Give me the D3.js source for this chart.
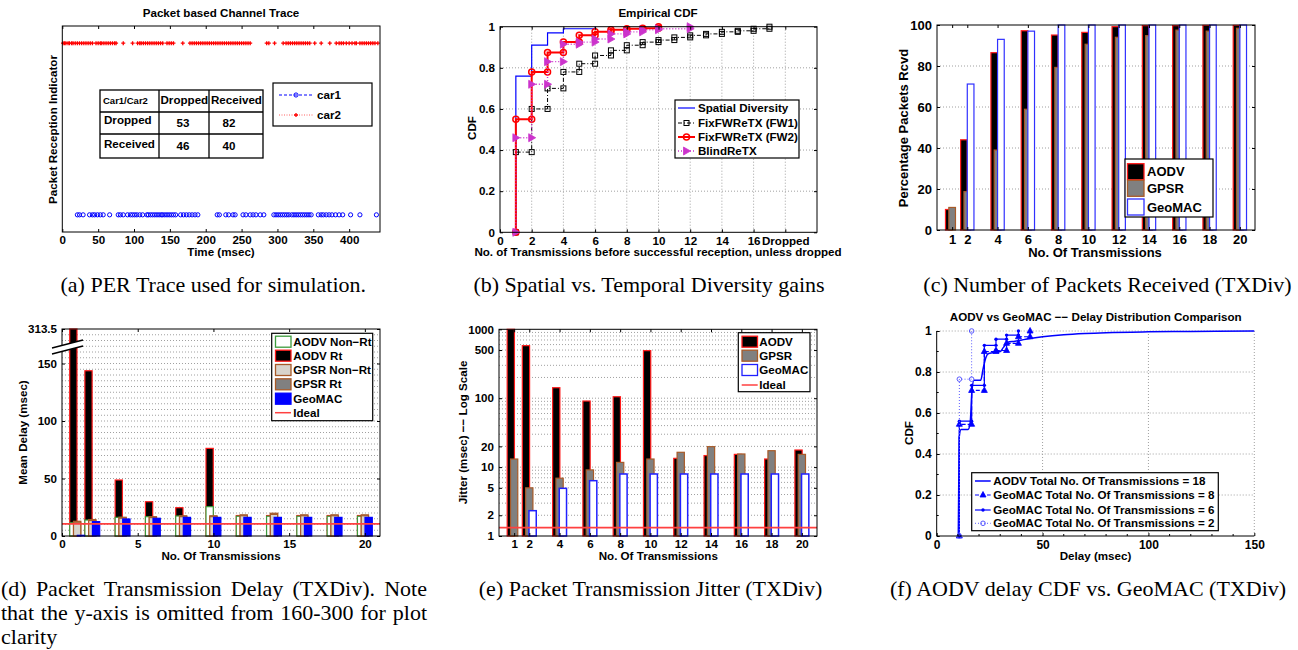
<!DOCTYPE html>
<html><head><meta charset="utf-8"><title>chart</title>
<script src="https://cdn.jsdelivr.net/npm/d3@7/dist/d3.min.js"></script>
<style>html,body{margin:0;padding:0;background:#fff;overflow:hidden}</style>
</head><body>
<svg id="chart" width="1298" height="650" xmlns="http://www.w3.org/2000/svg"></svg>
<script>
// ================= DATA =================
// (a) Packet based channel trace: times (msec) of plotted packets
const traceTicks = [0,50,100,150,200,250,300,350,400];
const car1Times = [21,24,29,38,42,45,49,53,57,66,78,81,85,91,95,98,101,104,108,112,118,120,123,126,129,132,135,138,140,143,146,149,152,155,158,165,169,173,177,181,185,189,216,219,228,232,238,241,252,256,262,266,270,276,281,295,298,301,304,307,310,313,316,320,323,326,329,332,335,338,341,344,347,357,361,364,368,372,376,381,386,391,402,415,438];
const car2Times = [1,3,5,8,10,13,15,18,21,24,27,30,33,36,39,42,47,50,53,55,58,61,64,67,70,73,75,85,98,105,108,110,113,116,119,122,125,128,131,134,137,140,146,149,152,155,168,178,181,184,187,190,193,196,199,202,205,208,211,214,217,220,223,226,229,232,235,238,241,244,247,250,253,256,259,262,285,288,296,308,312,315,318,321,324,327,330,333,336,339,342,345,352,361,373,382,386,389,392,396,400,404,408,410,415,418,421,424,427,430,433,436,440];
const tableHeader = ["Car1/Car2","Dropped","Received"];
const tableRowLabels = ["Dropped","Received"];
const tableColDropped = [53,46];
const tableColReceived = [82,40];
const traceLegend = ["car1","car2"];

// (b) Empirical CDF: [No. of transmissions, CDF]
const cdfTicks = [0,2,4,6,8,10,12,14,16,18];
const cdfTickLabels = ["0","2","4","6","8","10","12","14","16","Dropped"];
const cdfYTicks = [0,0.2,0.4,0.6,0.8,1];
const spatialSteps = [[1,0.76],[2,0.91],[3,0.97],[4,0.99],[6,1.0]];
const fw1Steps = [[1,0.39],[2,0.60],[3,0.70],[4,0.78],[5,0.82],[6,0.86],[7,0.885],[8,0.91],[9,0.925],[10,0.935],[11,0.948],[12,0.958],[13,0.965],[14,0.975],[15,0.98],[16,0.99],[17,1.0]];
const fw2Steps = [[1,0.55],[2,0.78],[3,0.875],[4,0.925],[5,0.958],[6,0.975],[7,0.985],[8,0.99],[9,0.993],[10,1.0]];
const blindSteps = [[1,0.46],[2,0.72],[3,0.83],[4,0.915],[5,0.925],[6,0.94],[7,0.965],[8,0.975],[9,0.985],[10,0.99],[12,1.0]];
const cdfLegend = ["Spatial Diversity","FixFWReTX (FW1)","FixFWReTX (FW2)","BlindReTX"];

// (c) Percentage packets received
const txCats = [1,2,4,6,8,10,12,14,16,18,20];
const rcvAODV = [10,44,86.5,97.2,95.1,96.4,99.2,99.7,99.7,99.8,99.8];
const rcvGPSR = [11,18.7,39,58.9,79.3,90.6,94,94.8,97.5,97,98.4];
const rcvGeoMAC = [0,71.2,93,97,100,100,100,100,100,100,100];
const rcvYTicks = [0,20,40,60,80,100];
const rcvLegend = ["AODV","GPSR","GeoMAC"];

// (d) Mean delay (msec)
const delayXTicks = [0,5,10,15,20];
const delayYTicks = [0,50,100,150,313.5];
const delayAODVNonRt = [11.5,13.9,16.2,16.8,17.4,25.5,17.2,17.2,17.2,17.2,17.2];
const delayAODVRt = [313.5,143.7,48.7,29.8,24.6,76.2,17.8,17.8,17.8,17.8,17.8];
const delayGPSRNonRt = [12,13.5,15.5,16,16.8,16.8,17.6,18.8,17.6,17.6,17.6];
const delayGPSRRt = [12.8,14.3,16.3,16.8,17.6,17.6,18.4,19.8,18.4,18.4,18.4];
const delayGeoMAC = [0.6,12.5,14.8,15.4,16.2,16.2,16.2,16.2,16.2,16.2,16.2];
const delayIdeal = 10.5;
const delayLegend = ["AODV Non\u2212Rt","AODV Rt","GPSR Non\u2212Rt","GPSR Rt","GeoMAC","Ideal"];

// (e) Jitter (msec), log scale
const jitYTicks = [1,2,5,10,20,100,500,1000];
const jitAODV = [1000,579,142,91,105,490,13.4,14.7,15.3,13.1,17.7];
const jitGPSR = [13.1,5.0,6.9,9.1,11.7,13.1,16.4,19.8,15.5,17.3,15.3];
const jitGeoMAC = [1,2.33,4.92,6.35,7.94,7.94,7.94,7.94,7.94,7.94,7.94];
const jitIdeal = 1.32;
const jitLegend = ["AODV","GPSR","GeoMAC","Ideal"];

// (f) Delay CDF
const fXTicks = [0,50,100,150];
const fYTicks = [0,0.2,0.4,0.6,0.8,1];
const aodvDelayX = [10.2,10.6,11.5,14.8,15.8,16.6,17.6,20.8,22,23.2,24.5,30,31.5,33.5,37,42,50,60,70,80,100,120,150];
const aodvDelayCdf = [0,0.48,0.52,0.52,0.55,0.70,0.76,0.76,0.82,0.87,0.89,0.90,0.92,0.945,0.95,0.96,0.972,0.982,0.988,0.992,0.996,0.998,1.0];
const geo8Steps = [[10.7,0.545],[16.5,0.71],[22.5,0.90],[28,0.905],[33,0.94],[38.6,0.972],[44.1,1.0]];
const geo6Steps = [[10.7,0.56],[16.5,0.735],[22.5,0.93],[28,0.96],[33,0.98],[38.6,1.0]];
const geo2Steps = [[10.7,0.765],[16.5,1.0]];
const fLegend = ["AODV Total No. Of Transmissions = 18","GeoMAC Total No. Of Transmissions = 8","GeoMAC Total No. Of Transmissions = 6","GeoMAC Total No. Of Transmissions = 2"];

// ================= DRAWING =================
const svg = d3.select("#chart");
svg.append("rect").attr("width",1298).attr("height",650).attr("fill","#fff");
const SANS = '"Liberation Sans", Arial, Helvetica, sans-serif';
const SERIF = '"Liberation Serif", "Times New Roman", Times, serif';
const FS = 11.6, CAP = 22, GRID = "#a0a0a0";
const BLUE = "#0000ff", RED = "#ff1a1a", BROWN = "#a85a28", GREEN = "#3c9c3c", MAG = "#cc33cc";

function label(g, x, y, s, o = {}) {
  const t = g.append("text").attr("x", x).attr("y", y).text(s)
    .attr("font-family", o.serif ? SERIF : SANS)
    .attr("font-weight", o.serif ? "normal" : "bold")
    .attr("font-size", o.fs || FS)
    .attr("text-anchor", o.anchor || "middle")
    .attr("dy", o.dy === undefined ? "0.35em" : o.dy)
    .attr("fill", "#000");
  if (o.rot) t.attr("transform", `rotate(-90,${x},${y})`);
  return t;
}
function grid(P, x, y, gx, gy) {
  const g = svg.append("g").attr("stroke", GRID).attr("stroke-dasharray", "1,2").attr("stroke-width", 1);
  if (gx) g.selectAll(null).data(gx).join("line").attr("x1", d => x(d)).attr("x2", d => x(d)).attr("y1", P.t).attr("y2", P.b);
  if (gy) g.selectAll(null).data(gy).join("line").attr("y1", d => y(d)).attr("y2", d => y(d)).attr("x1", P.l).attr("x2", P.r);
}
function frame(P, x, y, o) {
  const g = svg.append("g");
  const fs = o.fs || FS, tl = o.tl || 3;
  const style = s => { s.select(".domain").remove(); s.attr("font-size", fs).attr("font-family", SANS).attr("font-weight", "bold"); s.selectAll("text").attr("fill", "#000"); };
  const bx = d3.axisBottom(x).tickValues(o.xTicks).tickSize(-tl).tickSizeOuter(0).tickPadding(o.xPad || 4);
  if (o.xFmt) bx.tickFormat(o.xFmt);
  g.append("g").attr("transform", `translate(0,${P.b})`).call(bx).call(style);
  if (y && o.yTicks) {
    const ly = d3.axisLeft(y).tickValues(o.yTicks).tickSize(-tl).tickSizeOuter(0).tickPadding(o.yPad || 5);
    if (o.yFmt) ly.tickFormat(o.yFmt);
    g.append("g").attr("transform", `translate(${P.l},0)`).call(ly).call(style);
  }
  if (o.mirror) {
    g.append("g").attr("transform", `translate(0,${P.t})`).call(d3.axisTop(x).tickValues(o.xTicks).tickSize(-tl).tickSizeOuter(0).tickFormat("")).call(style);
    if (y && o.yTicks) g.append("g").attr("transform", `translate(${P.r},0)`).call(d3.axisRight(y).tickValues(o.yTicks).tickSize(-tl).tickSizeOuter(0).tickFormat("")).call(style);
  }
  if (o.box !== false) g.append("rect").attr("x", P.l).attr("y", P.t).attr("width", P.r - P.l).attr("height", P.b - P.t).attr("fill", "none").attr("stroke", "#000").attr("stroke-width", 1);
  return g;
}
function mark(g, type, cx, cy, c) {
  if (type === "sq") g.append("rect").attr("x", cx - 2.5).attr("y", cy - 2.5).attr("width", 5).attr("height", 5).attr("fill", "none").attr("stroke", c).attr("stroke-width", 1);
  else if (type === "ci") g.append("circle").attr("cx", cx).attr("cy", cy).attr("r", 3).attr("fill", "none").attr("stroke", c).attr("stroke-width", 1.5);
  else if (type === "tr") g.append("path").attr("d", `M${cx-3},${cy-4}L${cx+4},${cy}L${cx-3},${cy+4}Z`).attr("fill", c).attr("stroke", c).attr("stroke-width", 0.8);
  else if (type === "tu") g.append("path").attr("d", `M${cx},${cy-3.5}L${cx+3},${cy+2}L${cx-3},${cy+2}Z`).attr("fill", c).attr("stroke", c).attr("stroke-width", 0.8);
  else if (type === "dot") g.append("circle").attr("cx", cx).attr("cy", cy).attr("r", 1.7).attr("fill", c);
  else if (type === "oc") g.append("circle").attr("cx", cx).attr("cy", cy).attr("r", 2.3).attr("fill", "none").attr("stroke", c).attr("stroke-width", 1);
  else if (type === "oa") g.append("circle").attr("cx", cx).attr("cy", cy).attr("r", 2.1).attr("fill", "none").attr("stroke", c).attr("stroke-width", 1);
  else if (type === "plus") g.append("path").attr("d", `M${cx-2},${cy}h4M${cx},${cy-2}v4`).attr("stroke", c).attr("stroke-width", 1.3);
}
function stairs(steps) {
  const pts = [[steps[0][0], 0]];
  steps.forEach((s, i) => { if (i > 0) pts.push([s[0], steps[i - 1][1]]); pts.push([s[0], s[1]]); });
  return pts;
}
function bars(g, x, y, cats, vals, off, w, fill, stroke, base, sw) {
  g.append("g").selectAll("rect").data(cats.map((c, i) => [c, vals[i]])).join("rect")
    .attr("x", d => x(d[0] + off - w / 2)).attr("width", d => x(d[0] + off + w / 2) - x(d[0] + off - w / 2))
    .attr("y", d => y(d[1])).attr("height", d => Math.max(0, base - y(d[1])))
    .attr("fill", fill).attr("stroke", stroke).attr("stroke-width", sw || 1.2);
}
function legendBox(x, y, w, h) {
  svg.append("rect").attr("x", x).attr("y", y).attr("width", w).attr("height", h).attr("fill", "#fff").attr("stroke", "#000").attr("stroke-width", 1.2);
}

// ---------- (a) ----------
(function () {
  const P = {l: 62.3, r: 380, t: 26, b: 232};
  const x = d3.scaleLinear().domain([0, 443]).range([P.l, P.r]);
  const y = d3.scaleLinear().domain([-0.1, 1.1]).range([P.b, P.t]);
  const g = svg.append("g");
  car1Times.forEach(t => mark(g, "oa", x(t), y(0), BLUE));
  car2Times.forEach(t => mark(g, "plus", x(t), y(1), "#ff0000"));
  frame(P, x, null, {xTicks: traceTicks, mirror: true});
  label(svg, 221, 13, "Packet based Channel Trace");
  label(svg, 221, 252, "Time (msec)");
  label(svg, 53, 129.5, "Packet Reception Indicator", {rot: true});
  // table
  const cols = [100, 159, 209, 263], rows = [90, 112, 134, 158];
  const tg = svg.append("g").attr("stroke", "#000").attr("stroke-width", 1.3);
  tg.append("rect").attr("x", cols[0]).attr("y", rows[0]).attr("width", cols[3] - cols[0]).attr("height", rows[3] - rows[0]).attr("fill", "#fff");
  [cols[1], cols[2]].forEach(c => tg.append("line").attr("x1", c).attr("x2", c).attr("y1", rows[0]).attr("y2", rows[3]));
  [rows[1], rows[2]].forEach(r => tg.append("line").attr("y1", r).attr("y2", r).attr("x1", cols[0]).attr("x2", cols[3]));
  label(svg, 103, 101, tableHeader[0], {anchor: "start", fs: 9.5});
  label(svg, 160.5, 100, tableHeader[1], {anchor: "start"});
  label(svg, 211, 100, tableHeader[2], {anchor: "start"});
  label(svg, 104, 120, tableRowLabels[0], {anchor: "start"});
  label(svg, 104, 144, tableRowLabels[1], {anchor: "start"});
  [123, 146].forEach((cy, i) => {
    label(svg, 183, cy, String(tableColDropped[i]));
    label(svg, 229, cy, String(tableColReceived[i]));
  });
  // legend
  legendBox(273, 83, 99, 43);
  const lg = svg.append("g");
  lg.append("line").attr("x1", 279).attr("x2", 313).attr("y1", 95).attr("y2", 95).attr("stroke", BLUE).attr("stroke-dasharray", "3,2");
  mark(lg, "oa", 296, 95, BLUE);
  lg.append("line").attr("x1", 279).attr("x2", 313).attr("y1", 115).attr("y2", 115).attr("stroke", "#ff6060").attr("stroke-dasharray", "1,1.5");
  mark(lg, "plus", 296, 115, "#ff0000");
  label(svg, 317, 95, traceLegend[0], {anchor: "start"});
  label(svg, 317, 115, traceLegend[1], {anchor: "start"});
  label(svg, 213.3, 292, "(a) PER Trace used for simulation.", {serif: true, fs: CAP, dy: 0});
})();

// ---------- (b) ----------
(function () {
  const P = {l: 500, r: 817, t: 26.7, b: 232.3};
  const x = d3.scaleLinear().domain([0, 20]).range([P.l, P.r]);
  const y = d3.scaleLinear().domain([0, 1]).range([P.b, P.t]);
  grid(P, x, y, cdfTicks.slice(1), cdfYTicks.slice(1, 5));
  const line = d3.line().x(d => x(d[0])).y(d => y(d[1]));
  const styles = [
    {steps: spatialSteps, c: BLUE, w: 1.2, dash: null, m: null},
    {steps: fw1Steps, c: "#000", w: 1, dash: "4,2,1,2", m: "sq"},
    {steps: fw2Steps, c: "#ff0000", w: 2, dash: null, m: "ci"},
    {steps: blindSteps, c: MAG, w: 1.4, dash: "1,2", m: "tr"}];
  const g = svg.append("g");
  styles.forEach(s => {
    const pts = stairs(s.steps);
    g.append("path").attr("d", line(pts)).attr("fill", "none").attr("stroke", s.c).attr("stroke-width", s.w).attr("stroke-dasharray", s.dash);
    if (s.m) pts.forEach(p => mark(g, s.m, x(p[0]), y(p[1]), s.c));
  });
  frame(P, x, y, {xTicks: cdfTicks, xFmt: (d, i) => cdfTickLabels[i], yTicks: cdfYTicks, yFmt: d3.format("~g"), mirror: true});
  label(svg, 658, 13, "Empirical CDF");
  label(svg, 658, 252, "No. of Transmissions before successful reception, unless dropped");
  label(svg, 472, 128, "CDF", {rot: true});
  legendBox(675, 100, 124, 58);
  const lg = svg.append("g");
  [108, 123, 137, 151].forEach((cy, i) => {
    const s = styles[i];
    lg.append("line").attr("x1", 678).attr("x2", 695).attr("y1", cy).attr("y2", cy).attr("stroke", s.c).attr("stroke-width", s.w).attr("stroke-dasharray", s.dash);
    if (s.m) mark(lg, s.m, 686.5, cy, s.c);
    label(svg, 698, cy, cdfLegend[i], {anchor: "start"});
  });
  label(svg, 649, 292, "(b) Spatial vs. Temporal Diversity gains", {serif: true, fs: CAP, dy: 0});
})();

// ---------- (c) ----------
(function () {
  const P = {l: 937, r: 1255, t: 25, b: 230};
  const x = d3.scaleLinear().domain([0, 21]).range([P.l, P.r]);
  const y = d3.scaleLinear().domain([0, 100]).range([P.b, P.t]);
  grid(P, x, y, null, rcvYTicks.slice(1, 5));
  const g = svg.append("g");
  bars(g, x, y, txCats, rcvAODV, -0.22, 0.44, "#000", RED, P.b);
  bars(g, x, y, txCats, rcvGPSR, 0, 0.44, "#808080", BROWN, P.b);
  bars(g, x, y, txCats, rcvGeoMAC, 0.22, 0.44, "#fff", "#3030ff", P.b);
  frame(P, x, y, {xTicks: txCats, yTicks: rcvYTicks, fs: 13, mirror: true, xPad: 5});
  label(svg, 1095, 252.5, "No. Of Transmissions", {fs: 13});
  label(svg, 903, 128, "Percentage Packets Rcvd", {rot: true, fs: 13});
  legendBox(1125, 159, 88, 58);
  const sw = [["#000", RED], ["#808080", BROWN], ["#fff", "#3030ff"]];
  [171.7, 188.3, 207].forEach((cy, i) => {
    svg.append("rect").attr("x", 1127.5).attr("y", cy - 8).attr("width", 16.5).attr("height", 16).attr("fill", sw[i][0]).attr("stroke", sw[i][1]).attr("stroke-width", 1.3);
    label(svg, 1147, cy, rcvLegend[i], {anchor: "start", fs: 13});
  });
  label(svg, 1107.5, 292, "(c) Number of Packets Received (TXDiv)", {serif: true, fs: CAP, dy: 0});
})();

// ---------- (d) ----------
(function () {
  const P = {l: 62, r: 380, t: 329, b: 536};
  const x = d3.scaleLinear().domain([0, 21]).range([P.l, P.r]);
  const y = d3.scaleLinear().domain([0, 165, 300, 313.5]).range([536, 346.25, 344.5, 329]);
  const yLin = d3.scaleLinear().domain([0, 180]).range([P.b, P.t]);
  grid(P, x, yLin, null, d3.range(5, 180, 5));
  const g = svg.append("g");
  bars(g, x, y, txCats, delayAODVRt, -0.25, 0.48, "#000", RED, P.b);
  bars(g, x, y, txCats, delayAODVNonRt, -0.25, 0.48, "#fff", GREEN, P.b);
  bars(g, x, y, txCats, delayGPSRRt, 0, 0.48, "#808080", BROWN, P.b);
  bars(g, x, y, txCats, delayGPSRNonRt, 0, 0.48, "#d8d4cc", BROWN, P.b);
  bars(g, x, y, txCats, delayGeoMAC, 0.25, 0.48, BLUE, BLUE, P.b);
  g.append("line").attr("x1", P.l).attr("x2", P.r).attr("y1", y(delayIdeal)).attr("y2", y(delayIdeal)).attr("stroke", "#ff4040").attr("stroke-width", 1.8);
  frame(P, x, y, {xTicks: delayXTicks, yTicks: delayYTicks, yFmt: d => d === 313.5 ? "313.5" : String(d), mirror: true});
  // axis break
  svg.append("path").attr("d", "M52,348L83,340L83,346L52,354Z").attr("fill", "#fff");
  svg.append("path").attr("d", "M52,348L83,340M52,354L83,346").attr("stroke", "#000").attr("stroke-width", 1.3);
  label(svg, 221, 556, "No. Of Transmissions");
  label(svg, 22.7, 432.5, "Mean Delay (msec)", {rot: true});
  legendBox(271.7, 333.3, 101, 87.4);
  const sw = [["#fff", GREEN], ["#000", RED], ["#d8d4cc", BROWN], ["#808080", BROWN], [BLUE, BLUE]];
  [341.7, 355.7, 370, 384.3, 398.7, 412.7].forEach((cy, i) => {
    if (i < 5) svg.append("rect").attr("x", 275.5).attr("y", cy - 5.5).attr("width", 15.5).attr("height", 11).attr("fill", sw[i][0]).attr("stroke", sw[i][1]).attr("stroke-width", 1.3);
    else svg.append("line").attr("x1", 275).attr("x2", 291).attr("y1", cy).attr("y2", cy).attr("stroke", "#ff4040").attr("stroke-width", 1.5);
    label(svg, 293.3, cy, delayLegend[i], {anchor: "start"});
  });
  // justified caption
  const lines = ["(d) Packet Transmission Delay (TXDiv). Note", "that the y-axis is omitted from 160-300 for plot"];
  [596, 620].forEach((yb, li) => {
    const words = lines[li].split(" ");
    const ts = words.map(w => label(svg, 0, yb, w, {serif: true, fs: CAP, dy: 0, anchor: "start"}));
    const ws = ts.map(t => t.node().getComputedTextLength());
    const gap = (427 - 1 - d3.sum(ws)) / (words.length - 1);
    let cx = 1;
    ts.forEach((t, i) => { t.attr("x", cx); cx += ws[i] + gap; });
  });
  label(svg, 1, 644, "clarity", {serif: true, fs: CAP, dy: 0, anchor: "start"});
})();

// ---------- (e) ----------
(function () {
  const P = {l: 499, r: 817, t: 329.3, b: 536};
  const x = d3.scaleLinear().domain([0, 21]).range([P.l, P.r]);
  const y = d3.scaleLog().domain([1, 1000]).range([P.b, P.t]);
  const minor = [1, 10, 100].flatMap(d => d3.range(1, 10).map(k => k * d)).filter(v => v > 1 && v < 1000);
  grid(P, x, y, null, minor);
  const g = svg.append("g");
  bars(g, x, y, txCats, jitAODV, -0.22, 0.48, "#000", RED, P.b);
  bars(g, x, y, txCats, jitGPSR, 0, 0.48, "#808080", BROWN, P.b);
  bars(g, x, y, txCats, jitGeoMAC, 0.22, 0.48, "#fff", "#2020ff", P.b, 1.5);
  g.append("line").attr("x1", P.l).attr("x2", P.r).attr("y1", y(jitIdeal)).attr("y2", y(jitIdeal)).attr("stroke", "#ff4040").attr("stroke-width", 1.8);
  frame(P, x, y, {xTicks: txCats, yTicks: jitYTicks, yFmt: d3.format("d"), mirror: true});
  label(svg, 658.3, 556, "No. Of Transmissions");
  label(svg, 463.3, 432.5, "Jitter (msec) \u2212\u2212 Log Scale", {rot: true});
  legendBox(738.3, 332.7, 71.7, 59);
  const sw = [["#000", RED], ["#808080", BROWN], ["#fff", "#2020ff"]];
  [341.7, 355.7, 370, 385].forEach((cy, i) => {
    if (i < 3) svg.append("rect").attr("x", 742).attr("y", cy - 5.5).attr("width", 15.5).attr("height", 11).attr("fill", sw[i][0]).attr("stroke", sw[i][1]).attr("stroke-width", 1.3);
    else svg.append("line").attr("x1", 741.7).attr("x2", 757.7).attr("y1", cy).attr("y2", cy).attr("stroke", "#ff4040").attr("stroke-width", 1.5);
    label(svg, 759.3, cy, jitLegend[i], {anchor: "start"});
  });
  label(svg, 650.5, 595.5, "(e) Packet Transmission Jitter (TXDiv)", {serif: true, fs: CAP, dy: 0});
})();

// ---------- (f) ----------
(function () {
  const P = {l: 936.7, r: 1254.3, t: 331, b: 536};
  const x = d3.scaleLinear().domain([0, 150]).range([P.l, P.r]);
  const y = d3.scaleLinear().domain([0, 1]).range([P.b, P.t]);
  grid(P, x, y, fXTicks.slice(1), fYTicks.slice(1));
  const g = svg.append("g");
  const line = d3.line().x(d => x(d[0])).y(d => y(d[1]));
  g.append("path").attr("d", d3.line().curve(d3.curveMonotoneX).x((d, i) => x(aodvDelayX[i])).y(d => y(d))(aodvDelayCdf))
    .attr("fill", "none").attr("stroke", BLUE).attr("stroke-width", 1.5);
  const styles = [
    {steps: geo8Steps, dash: "4,2", c: BLUE, m: "tu", w: 1.2},
    {steps: geo6Steps, dash: null, c: BLUE, m: "dot", w: 1.2},
    {steps: geo2Steps, dash: "1,2", c: "#5a5aff", m: "oc", w: 1}];
  styles.forEach(s => {
    const pts = stairs(s.steps);
    g.append("path").attr("d", line(pts)).attr("fill", "none").attr("stroke", s.c).attr("stroke-width", s.w).attr("stroke-dasharray", s.dash);
    pts.forEach(p => mark(g, s.m, x(p[0]), y(p[1]), s.c));
  });
  frame(P, x, y, {xTicks: fXTicks, yTicks: fYTicks, yFmt: d3.format("~g"), fs: 12, box: false});
  const ax = svg.append("g").attr("stroke", "#000").attr("stroke-width", 1);
  ax.append("line").attr("x1", P.l).attr("x2", P.r).attr("y1", P.b).attr("y2", P.b);
  ax.append("line").attr("x1", P.l).attr("x2", P.l).attr("y1", P.t).attr("y2", P.b);
  const mx = d3.range(10, 150, 10).filter(v => v % 50 !== 0), my = [0.1, 0.3, 0.5, 0.7, 0.9];
  ax.selectAll(null).data(mx).join("line").attr("x1", d => x(d)).attr("x2", d => x(d)).attr("y1", P.b).attr("y2", P.b - 2);
  ax.selectAll(null).data(my).join("line").attr("y1", d => y(d)).attr("y2", d => y(d)).attr("x1", P.l).attr("x2", P.l + 2);
  label(svg, 1095.7, 316.7, "AODV vs GeoMAC \u2212\u2212 Delay Distribution Comparison");
  label(svg, 1095.5, 556, "Delay (msec)");
  label(svg, 909.3, 433, "CDF", {rot: true});
  legendBox(971.7, 472.7, 246.6, 58);
  const lst = [{dash: null, c: BLUE, m: null, w: 1.5}].concat(styles);
  [481, 495, 510, 523.3].forEach((cy, i) => {
    const s = lst[i];
    svg.append("line").attr("x1", 975).attr("x2", 990.7).attr("y1", cy).attr("y2", cy).attr("stroke", s.c).attr("stroke-width", s.w).attr("stroke-dasharray", s.dash);
    if (s.m) mark(svg, s.m, 983, cy, s.c);
    label(svg, 993.3, cy, fLegend[i], {anchor: "start"});
  });
  label(svg, 1088, 595.5, "(f) AODV delay CDF vs. GeoMAC (TXDiv)", {serif: true, fs: CAP, dy: 0});
})();
</script>
</body></html>
